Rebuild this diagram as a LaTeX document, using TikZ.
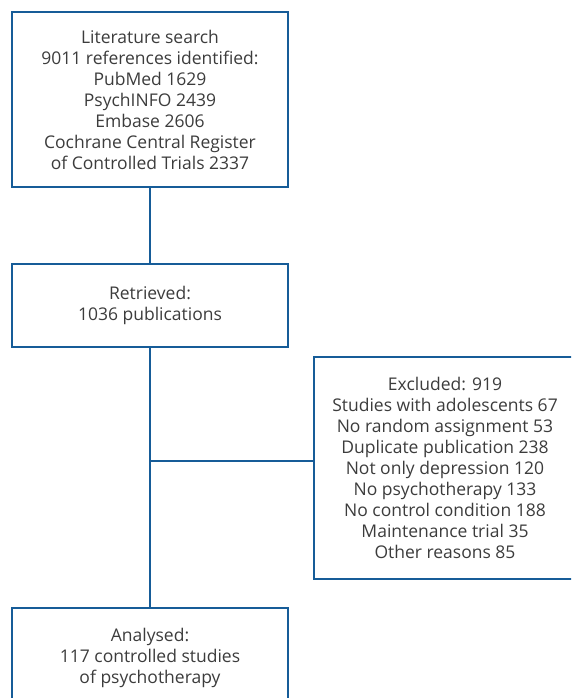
\documentclass[tikz,border=0pt]{standalone}
\usepackage{fontspec}
\setmainfont{Open Sans}
\usepackage{tikz}
\usetikzlibrary{positioning, calc}
\usepackage{xcolor}
\definecolor{flowblue}{RGB}{22,92,152}
\definecolor{flowtext}{RGB}{60,60,60}

\begin{document}
\begin{tikzpicture}[
  x=1pt, y=1pt,
  font=\fontsize{17.5}{21}\selectfont,
  box/.style={draw=flowblue, line width=2pt, align=center, text=flowtext, minimum width=276pt, inner sep=0pt},
  link/.style={draw=flowblue, line width=2pt}
]
\useasboundingbox (0,0) rectangle (571,-698);
\clip (0,0) rectangle (571,-698);

% SEARCH
\node[box, minimum height=175pt] (search) at (150,-99.5) {Literature search\\9011 references identified:\\PubMed 1629\\PsychINFO 2439\\Embase 2606\\Cochrane Central Register\\of Controlled Trials 2337};

% RETRIEVED
\node[box, minimum height=83pt, below=75pt of search] (retr) {Retrieved:\\1036 publications};

% EXCLUDED
\node[box, minimum width=262pt, minimum height=222pt] (excl) at (445,-468) {Excluded: 919\\Studies with adolescents 67\\No random assignment 53\\Duplicate publication 238\\Not only depression 120\\No psychotherapy 133\\No control condition 188\\Maintenance trial 35\\Other reasons 85};

% ANALYSED
\node[box, minimum height=100pt, below=259pt of retr] (anal) {Analysed:\\117 controlled studies\\of psychotherapy};

\draw[link] (search) -- (retr);
\draw[link] (retr) -- (anal);
\coordinate (joint) at ([yshift=7pt]excl.west);
\draw[link] (retr.south |- joint) -- (joint);

\end{tikzpicture}
\end{document}
